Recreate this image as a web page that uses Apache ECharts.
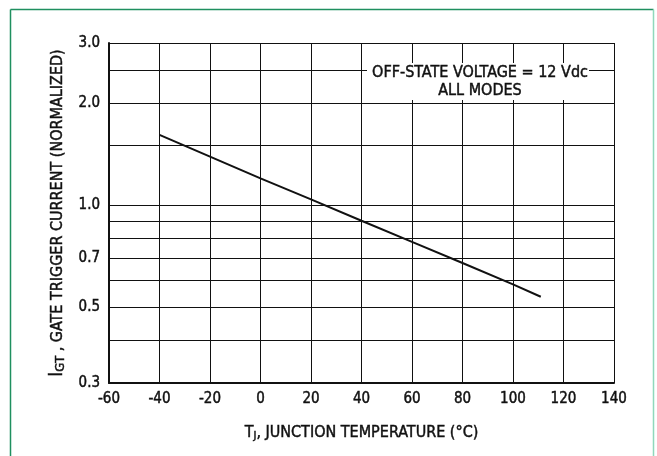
<!DOCTYPE html>
<html>
<head>
<meta charset="utf-8">
<script src="https://cdn.jsdelivr.net/npm/echarts@6/dist/echarts.min.js"></script>
<style>
html,body{margin:0;padding:0;background:#fff;}
#c{width:657px;height:456px;}
</style>
</head>
<body>
<div id="c"></div>
<script>
// Data
const temperatures = [-40, -20, 0, 20, 40, 60, 80, 100, 111];
const igtNormalized = [1.61, 1.39, 1.20, 1.04, 0.90, 0.78, 0.676, 0.585, 0.538];
const yGridValues = [0.3, 0.4, 0.5, 0.6, 0.7, 0.8, 0.9, 1.0, 1.5, 2.0, 2.5, 3.0];
const yLabelValues = [0.3, 0.5, 0.7, 1.0, 2.0, 3.0];
const xTicks = [-60, -40, -20, 0, 20, 40, 60, 80, 100, 120, 140];
const annotationLines = ['OFF-STATE VOLTAGE = 12 Vdc', 'ALL MODES'];

const FONT = "'Liberation Sans Narrow', 'DejaVu Sans Condensed', sans-serif";
const INK = '#111';
const heavy = {textBorderColor: INK, textBorderWidth: 0.45};
const chart = echarts.init(document.getElementById('c'), null, {renderer: 'canvas'});

chart.setOption({
  animation: false,
  backgroundColor: '#fff',
  grid: {left: 109, right: 43, top: 43, bottom: 73, containLabel: false},
  xAxis: {
    type: 'value',
    min: -60, max: 140, interval: 20,
    axisLine: {show: true, onZero: false, lineStyle: {color: INK, width: 2}},
    axisTick: {show: false},
    axisLabel: Object.assign({color: INK, fontFamily: FONT, fontSize: 15, margin: 9,
      formatter: v => xTicks.includes(v) ? String(v) : ''}, heavy),
    splitLine: {show: true, lineStyle: {color: INK, width: 1}},
    name: 'T{sub|J}, JUNCTION TEMPERATURE (°C)',
    nameLocation: 'middle',
    nameGap: 40,
    nameTextStyle: Object.assign({color: INK, fontFamily: FONT, fontSize: 16,
      rich: {sub: Object.assign({fontFamily: FONT, fontSize: 11, color: INK, padding: [8, 0, 0, 0]}, heavy)}}, heavy)
  },
  yAxis: {
    type: 'log',
    logBase: 10,
    min: 0.3, max: 3.0,
    axisLine: {show: true, onZero: false, lineStyle: {color: INK, width: 2}},
    axisTick: {show: false, customValues: yGridValues},
    axisLabel: Object.assign({color: INK, fontFamily: FONT, fontSize: 15, margin: 9,
      customValues: yLabelValues,
      formatter: v => Number(v).toFixed(1)}, heavy),
    splitLine: {show: true, lineStyle: {color: INK, width: 1}},
    minorSplitLine: {show: false},
    name: '{big|I}{gt|GT} , GATE TRIGGER CURRENT (NORMALIZED)',
    nameLocation: 'middle',
    nameRotate: 90,
    nameGap: 42,
    nameTextStyle: Object.assign({color: INK, fontFamily: FONT, fontSize: 16,
      rich: {
        big: Object.assign({fontFamily: FONT, fontSize: 19, color: INK, verticalAlign: 'bottom'}, heavy),
        gt: Object.assign({fontFamily: FONT, fontSize: 13, color: INK, verticalAlign: 'bottom'}, heavy)
      }}, heavy)
  },
  series: [{
    type: 'line',
    data: temperatures.map((t, i) => [t, igtNormalized[i]]),
    showSymbol: false,
    symbol: 'none',
    lineStyle: {color: INK, width: 2},
    z: 5
  }],
  graphic: [
    {type: 'rect', shape: {x: 367, y: 63, width: 222, height: 37}, style: {fill: '#fff'}, z: 10},
    {type: 'text', x: 480, y: 73, style: Object.assign({text: annotationLines[0], font: '16px ' + FONT, fill: INK, align: 'center', verticalAlign: 'middle', stroke: INK, lineWidth: 0.45}), z: 11},
    {type: 'text', x: 480, y: 91, style: Object.assign({text: annotationLines[1], font: '16px ' + FONT, fill: INK, align: 'center', verticalAlign: 'middle', stroke: INK, lineWidth: 0.45}), z: 11},
    {type: 'line', shape: {x1: 10.5, y1: 9.5, x2: 653.5, y2: 9.5}, style: {stroke: '#1f8f5f', lineWidth: 1.5}, z: 20},
    {type: 'line', shape: {x1: 10.5, y1: 9.5, x2: 10.5, y2: 456}, style: {stroke: '#1f8f5f', lineWidth: 1.5}, z: 20},
    {type: 'line', shape: {x1: 653.5, y1: 9.5, x2: 653.5, y2: 456}, style: {stroke: '#8fd8bb', lineWidth: 1.5}, z: 20}
  ]
});
</script>
</body>
</html>
